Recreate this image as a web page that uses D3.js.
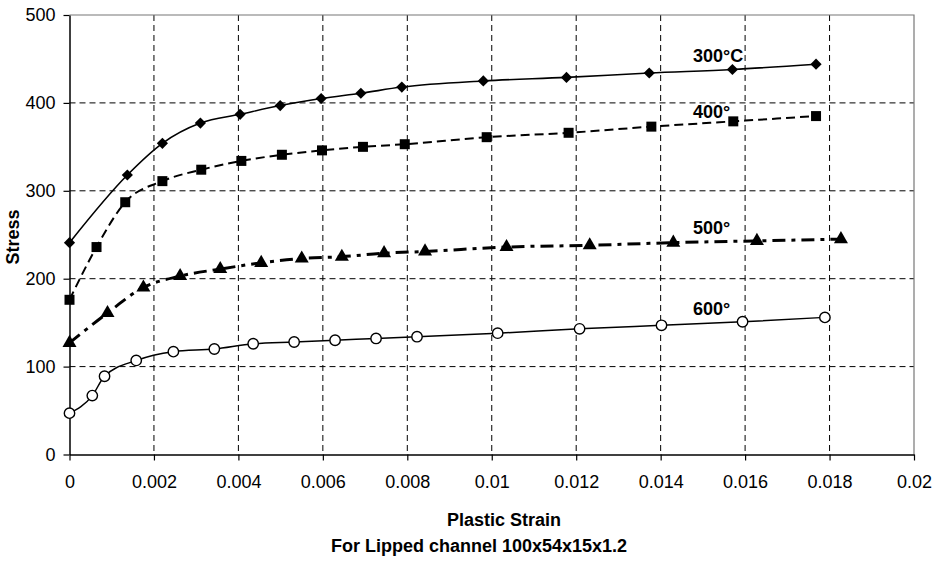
<!DOCTYPE html>
<html>
<head>
<meta charset="utf-8">
<script src="https://cdn.jsdelivr.net/npm/d3@7"></script>
<style>
  body { margin: 0; background: #fff; }
  text { font-family: "Liberation Sans", Arial, sans-serif; fill: #000; }
</style>
</head>
<body>
<svg width="945" height="561"></svg>
<script>
// values
var strain300 = [0, 0.00137, 0.0022, 0.0031, 0.00404, 0.00499, 0.00596, 0.0069, 0.00787, 0.0098, 0.01177, 0.01373, 0.0157, 0.01768];
var stress300 = [241, 318, 354, 377, 387, 397, 405, 411, 418, 425, 429, 434, 438, 444];

var strain400 = [0, 0.00064, 0.00132, 0.0022, 0.00312, 0.00407, 0.00503, 0.00598, 0.00695, 0.00794, 0.00988, 0.01182, 0.01378, 0.01572, 0.01768];
var stress400 = [176, 236, 287, 311, 324, 334, 341, 346, 350, 353, 361, 366, 373, 379, 385];

var strain500 = [0, 0.0009, 0.00175, 0.00262, 0.00357, 0.00454, 0.0055, 0.00645, 0.00745, 0.00842, 0.01035, 0.01232, 0.0143, 0.01628, 0.01827];
var stress500 = [127, 161, 190, 203, 211, 218, 223, 225, 229, 231, 236, 238, 241, 243, 245];

var strain600 = [0, 0.00054, 0.00083, 0.00158, 0.00246, 0.00343, 0.00435, 0.00532, 0.00629, 0.00726, 0.00823, 0.01014, 0.01208, 0.01402, 0.01594, 0.01789];
var stress600 = [47, 67, 89, 107, 117, 120, 126, 128, 130, 132, 134, 138, 143, 147, 151, 156];

var seriesNames = ['300°C', '400°', '500°', '600°'];
var xTicks = [0, 0.002, 0.004, 0.006, 0.008, 0.01, 0.012, 0.014, 0.016, 0.018, 0.02];
var yTicks = [0, 100, 200, 300, 400, 500];

var svg = d3.select('svg');
var plotLeft = 69.5, plotRight = 914, plotTop = 15, plotBottom = 454.5;

var x = d3.scaleLinear().domain([0, 0.02]).range([plotLeft, plotRight]);
var y = d3.scaleLinear().domain([0, 500]).range([plotBottom, plotTop]);

var zip = (xs, ys) => xs.map((v, i) => [v, ys[i]]);

var series = [
    { name: seriesNames[0], data: zip(strain300, stress300), dash: null, width: 1.6, marker: 'diamond', lx: 693, ly: 62 },
    { name: seriesNames[1], data: zip(strain400, stress400), dash: '9,5', width: 2, marker: 'square', lx: 693, ly: 118 },
    { name: seriesNames[2], data: zip(strain500, stress500), dash: '13,6,4,6', width: 3, marker: 'triangle', lx: 693, ly: 234 },
    { name: seriesNames[3], data: zip(strain600, stress600), dash: null, width: 1.5, marker: 'circle', lx: 693, ly: 315 }
];

// grid
svg.append('g')
    .selectAll('line')
    .data(xTicks.slice(1, -1))
    .enter().append('line')
    .attr('x1', d => x(d)).attr('x2', d => x(d))
    .attr('y1', plotTop).attr('y2', plotBottom)
    .attr('stroke', '#000').attr('stroke-width', 1).attr('stroke-dasharray', '6,4');

svg.append('g')
    .selectAll('line')
    .data(yTicks.slice(1, -1))
    .enter().append('line')
    .attr('x1', plotLeft).attr('x2', plotRight)
    .attr('y1', d => y(d)).attr('y2', d => y(d))
    .attr('stroke', '#000').attr('stroke-width', 1).attr('stroke-dasharray', '6,4');

// frame top / right
svg.append('path')
    .attr('d', `M${plotLeft},${plotTop}H${plotRight}V${plotBottom}`)
    .attr('fill', 'none').attr('stroke', '#777').attr('stroke-width', 1.2);

// axes
var xAxis = d3.axisBottom(x).tickValues(xTicks).tickSize(6).tickSizeOuter(0)
    .tickFormat(d => d === 0 ? '0' : String(+d.toFixed(3)));
var gx = svg.append('g').attr('transform', `translate(0,${plotBottom})`).call(xAxis);
gx.select('.domain').attr('stroke', '#000').attr('stroke-width', 1.5);
gx.selectAll('.tick line').attr('stroke', '#000').attr('stroke-width', 1.2);
gx.selectAll('.tick text').attr('dy', '0.71em').attr('y', 21)
    .style('font-size', '18px').style('font-family', '"Liberation Sans", Arial, sans-serif');

var yAxis = d3.axisLeft(y).tickValues(yTicks).tickSize(6).tickSizeOuter(0);
var gy = svg.append('g').attr('transform', `translate(${plotLeft},0)`).call(yAxis);
gy.select('.domain').attr('stroke', '#000').attr('stroke-width', 1.5);
gy.selectAll('.tick line').attr('stroke', '#000').attr('stroke-width', 1.2);
gy.selectAll('.tick text').attr('x', -14)
    .style('font-size', '18px').style('font-family', '"Liberation Sans", Arial, sans-serif');

// lines
var line = d3.line()
    .x(d => x(d[0]))
    .y(d => y(d[1]))
    .curve(d3.curveMonotoneX);

series.forEach(function (s) {
    svg.append('path')
        .datum(s.data)
        .attr('d', line)
        .attr('fill', 'none')
        .attr('stroke', '#000')
        .attr('stroke-width', s.width)
        .attr('stroke-dasharray', s.dash);

    var g = svg.append('g');
    var pts = g.selectAll('.m').data(s.data).enter();
    if (s.marker === 'circle') {
        pts.append('circle')
            .attr('cx', d => x(d[0])).attr('cy', d => y(d[1])).attr('r', 5.2)
            .attr('fill', '#fff').attr('stroke', '#000').attr('stroke-width', 1.4);
    } else {
        var sym = s.marker === 'diamond' ? d3.symbolDiamond2 : s.marker === 'square' ? d3.symbolSquare : d3.symbolTriangle;
        var size = s.marker === 'diamond' ? 80 : s.marker === 'square' ? 100 : 85;
        pts.append('path')
            .attr('transform', d => `translate(${x(d[0])},${y(d[1])})`)
            .attr('d', d3.symbol().type(sym).size(size))
            .attr('fill', '#000');
    }

    svg.append('text')
        .attr('x', s.lx).attr('y', s.ly)
        .style('font-size', '18px').style('font-weight', 'bold')
        .text(s.name);
});

// titles
svg.append('text')
    .attr('transform', 'translate(19,237) rotate(-90)')
    .attr('text-anchor', 'middle')
    .style('font-size', '18px').style('font-weight', 'bold')
    .text('Stress');

svg.append('text')
    .attr('x', 504).attr('y', 526)
    .attr('text-anchor', 'middle')
    .style('font-size', '18px').style('font-weight', 'bold')
    .text('Plastic Strain');

svg.append('text')
    .attr('x', 479).attr('y', 552)
    .attr('text-anchor', 'middle')
    .style('font-size', '18px').style('font-weight', 'bold')
    .text('For Lipped channel 100x54x15x1.2');
</script>
</body>
</html>
